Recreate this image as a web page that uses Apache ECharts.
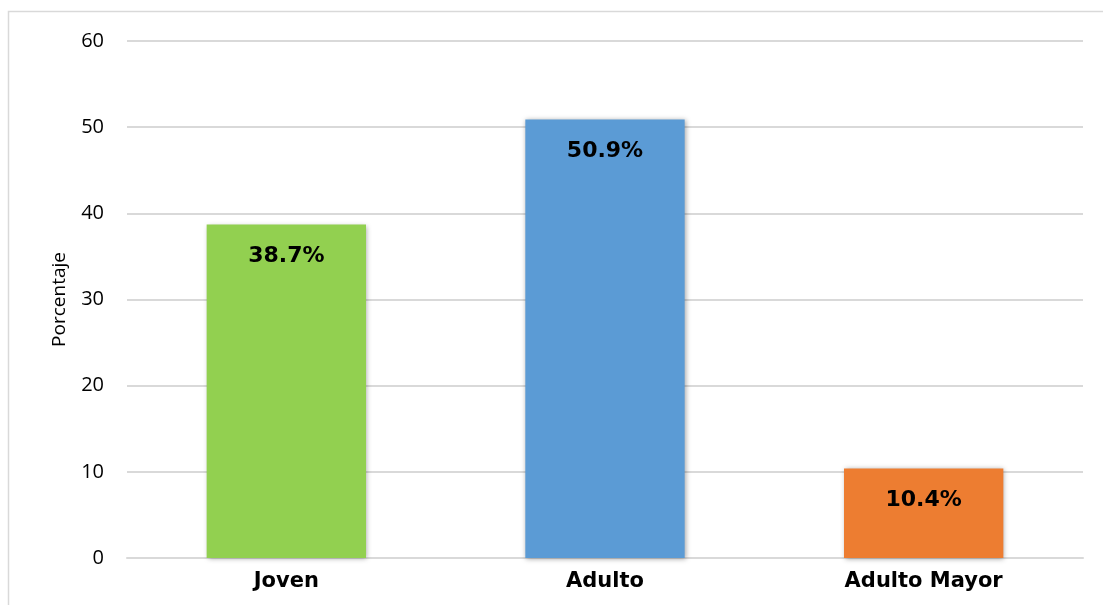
<!DOCTYPE html>
<html>
<head>
<meta charset="utf-8">
<script src="https://cdn.jsdelivr.net/npm/echarts@6/dist/echarts.min.js"></script>
<style>
  html, body { margin: 0; padding: 0; background: #fff; }
  #main { width: 1103px; height: 605px; }
</style>
</head>
<body>
<div id="main"></div>
<script>
var categories = ['Joven', 'Adulto', 'Adulto Mayor'];
var values = [38.7, 50.9, 10.4];
var colors = ['#92D050', '#5B9BD5', '#ED7D31'];
var yTicks = [0, 10, 20, 30, 40, 50, 60];

var myChart = echarts.init(document.getElementById('main'));
myChart.setOption({
  backgroundColor: '#fff',
  animation: false,
  graphic: [{
    type: 'rect',
    shape: { x: 8.5, y: 11.5, width: 1120, height: 620 },
    style: { fill: 'none', stroke: '#d9d9d9', lineWidth: 1.5 },
    silent: true
  }],
  grid: { left: 127, right: 20, top: 41, bottom: 47 },
  xAxis: {
    type: 'category',
    data: categories,
    axisLine: { lineStyle: { color: '#d9d9d9', width: 2 } },
    axisTick: { show: false },
    axisLabel: {
      color: '#000', fontSize: 21, fontWeight: 'bold',
      fontFamily: 'DejaVu Sans', margin: 13
    }
  },
  yAxis: {
    type: 'value',
    min: yTicks[0],
    max: yTicks[yTicks.length - 1],
    interval: 10,
    name: 'Porcentaje',
    nameLocation: 'middle',
    nameGap: 58,
    nameTextStyle: { color: '#000', fontSize: 19, fontFamily: 'Open Sans' },
    axisLine: { show: false },
    axisTick: { show: false },
    axisLabel: { color: '#000', fontSize: 20, fontFamily: 'Open Sans', margin: 23 },
    splitLine: { lineStyle: { color: '#d9d9d9', width: 2 } }
  },
  series: [{
    type: 'bar',
    barWidth: '50%',
    data: values.map(function (v, i) {
      return { value: v, itemStyle: { color: colors[i] } };
    }),
    itemStyle: {
      shadowBlur: 5,
      shadowColor: 'rgba(0,0,0,0.35)',
      shadowOffsetX: 1,
      shadowOffsetY: 1
    },
    label: {
      show: true,
      position: 'insideTop',
      distance: 21,
      formatter: function (p) { return p.value.toFixed(1) + '%'; },
      color: '#000',
      fontSize: 22,
      fontWeight: 'bold',
      fontFamily: 'DejaVu Sans'
    }
  }]
});
</script>
</body>
</html>
